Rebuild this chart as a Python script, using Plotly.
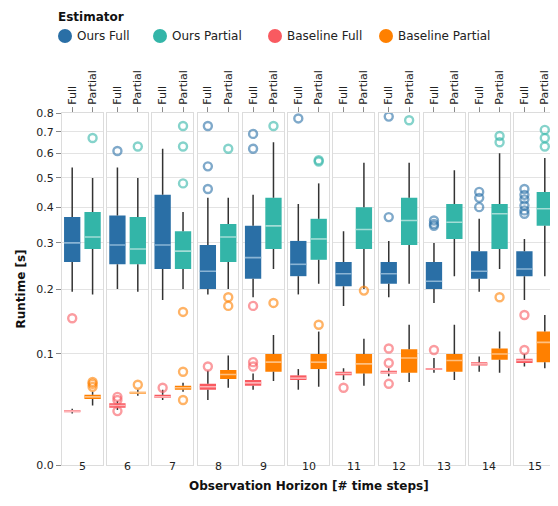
import numpy as np
import plotly.graph_objects as go
from plotly.subplots import make_subplots

horizons = [5, 6, 7, 8, 9, 10, 11, 12, 13, 14, 15]
series_names = ["Ours Full", "Ours Partial", "Baseline Full", "Baseline Partial"]
# per series: lists of [low whisker, q1, median, q3, high whisker] per horizon
ours_full = [
    [0.195, 0.255, 0.30, 0.37, 0.54], [0.20, 0.25, 0.295, 0.375, 0.54], [0.18, 0.24, 0.295, 0.44, 0.62],
    [0.19, 0.20, 0.235, 0.295, 0.43], [0.185, 0.22, 0.265, 0.345, 0.44], [0.19, 0.225, 0.25, 0.305, 0.41],
    [0.17, 0.205, 0.23, 0.255, 0.33], [0.185, 0.21, 0.23, 0.255, 0.305], [0.175, 0.20, 0.215, 0.255, 0.30],
    [0.195, 0.22, 0.235, 0.28, 0.365], [0.18, 0.225, 0.24, 0.28, 0.31]]
ours_partial = [
    [0.19, 0.285, 0.315, 0.385, 0.50], [0.195, 0.25, 0.285, 0.37, 0.50], [0.20, 0.24, 0.28, 0.33, 0.385],
    [0.20, 0.255, 0.315, 0.35, 0.43], [0.24, 0.285, 0.345, 0.43, 0.65], [0.21, 0.26, 0.31, 0.365, 0.48],
    [0.20, 0.285, 0.335, 0.40, 0.56], [0.21, 0.295, 0.36, 0.43, 0.56], [0.225, 0.31, 0.355, 0.41, 0.53],
    [0.24, 0.285, 0.38, 0.41, 0.60], [0.225, 0.345, 0.395, 0.45, 0.58]]
baseline_full = [
    [0.038, 0.039, 0.040, 0.041, 0.042], [0.041, 0.043, 0.045, 0.047, 0.049], [0.050, 0.052, 0.053, 0.055, 0.060],
    [0.050, 0.060, 0.063, 0.066, 0.080], [0.060, 0.064, 0.067, 0.070, 0.077], [0.060, 0.070, 0.072, 0.075, 0.082],
    [0.070, 0.075, 0.077, 0.079, 0.083], [0.074, 0.077, 0.078, 0.080, 0.083], [0.078, 0.081, 0.082, 0.083, 0.095],
    [0.079, 0.086, 0.088, 0.090, 0.097], [0.085, 0.089, 0.092, 0.094, 0.100]]
baseline_partial = [
    [0.045, 0.051, 0.053, 0.055, 0.058], [0.054, 0.056, 0.057, 0.058, 0.060], [0.058, 0.060, 0.062, 0.064, 0.067],
    [0.062, 0.071, 0.076, 0.081, 0.098], [0.069, 0.079, 0.090, 0.100, 0.125], [0.063, 0.082, 0.090, 0.100, 0.130],
    [0.064, 0.077, 0.088, 0.100, 0.120], [0.068, 0.078, 0.095, 0.106, 0.140], [0.070, 0.079, 0.092, 0.100, 0.140],
    [0.078, 0.093, 0.100, 0.107, 0.130], [0.083, 0.090, 0.115, 0.130, 0.155]]
outliers = {
    "Ours Full": [[], [0.61], [], [0.73, 0.545, 0.46], [0.69, 0.62], [0.77], [], [0.78, 0.37],
                  [0.36, 0.35, 0.345], [0.45, 0.43, 0.40], [0.46, 0.44, 0.425, 0.405, 0.39, 0.38]],
    "Ours Partial": [[0.67], [0.63], [0.73, 0.63, 0.48], [0.62], [0.73], [0.565, 0.57], [], [0.76], [],
                     [0.68, 0.65], [0.71, 0.67, 0.63]],
    "Baseline Full": [[0.15], [0.053, 0.05, 0.04], [0.062], [0.085], [0.09, 0.085, 0.17], [], [0.062],
                      [0.107, 0.089, 0.066], [0.105], [], [0.155, 0.105]],
    "Baseline Partial": [[0.066, 0.063, 0.068], [0.065], [0.079, 0.05, 0.16], [0.185, 0.17], [0.175], [0.14],
                         [0.197], [], [], [0.185], []],
}
y_ticks = [0.0, 0.1, 0.2, 0.3, 0.4, 0.5, 0.6, 0.7, 0.8]
bands = ["Full", "Partial"]

data = {"Ours Full": ours_full, "Ours Partial": ours_partial,
        "Baseline Full": baseline_full, "Baseline Partial": baseline_partial}
colors = {"Ours Full": "#2a6fa6", "Ours Partial": "#33b5a8",
          "Baseline Full": "#f95a60", "Baseline Partial": "#ff8000"}
median_colors = {"Ours Full": "#8ab4d4", "Ours Partial": "#a3ddd6",
                 "Baseline Full": "#fdb3b6", "Baseline Partial": "#ffc080"}
band_of = {"Ours Full": 0, "Ours Partial": 1, "Baseline Full": 0, "Baseline Partial": 1}

C = 0.1
def t(v):
    return np.log1p(np.asarray(v, dtype=float) / C)

n = len(horizons)
fig = make_subplots(rows=1, cols=n, shared_yaxes=True, horizontal_spacing=0.009)
W = 0.8
for i in range(n):
    col = i + 1
    for s in series_names:
        lo, q1, md, q3, hi = data[s][i]
        xc = band_of[s]
        fig.add_trace(go.Scatter(x=[xc, xc, None, xc, xc], y=list(t([lo, q1])) + [None] + list(t([q3, hi])),
                                 mode="lines", line=dict(color="#333333", width=1.5),
                                 showlegend=False, hoverinfo="skip"), row=1, col=col)
        fig.add_trace(go.Bar(x=[xc], y=[float(t(q3) - t(q1))], base=[float(t(q1))], width=W,
                             marker=dict(color=colors[s], line=dict(width=0)),
                             showlegend=False, hoverinfo="skip"), row=1, col=col)
        fig.add_trace(go.Scatter(x=[xc - W / 2, xc + W / 2], y=[float(t(md))] * 2, mode="lines",
                                 line=dict(color=median_colors[s], width=1.6),
                                 showlegend=False, hoverinfo="skip"), row=1, col=col)
        ol = outliers[s][i]
        if ol:
            fig.add_trace(go.Scatter(x=[xc] * len(ol), y=list(t(ol)), mode="markers",
                                     marker=dict(symbol="circle-open", size=8, color=colors[s],
                                                 opacity=0.6, line=dict(width=2.4)),
                                     showlegend=False, hoverinfo="skip"), row=1, col=col)
    fig.update_xaxes(row=1, col=col, range=[-0.5, 1.5], side="top", tickmode="array",
                     tickvals=[0, 1], ticktext=bands, tickangle=-90, ticks="outside", ticklen=5,
                     tickcolor="#888", showline=True, mirror=True, linecolor="#dcdcdc", linewidth=1.2,
                     showgrid=False, zeroline=False, tickfont=dict(size=11, color="#222"), fixedrange=True)
    fig.add_annotation(xref=f"x{col if col > 1 else ''} domain", yref="paper", x=0.5, y=0, yshift=-10,
                       text=str(horizons[i]), showarrow=False, font=dict(size=11, color="#222"))

fig.update_yaxes(range=[0, float(t(0.8))], tickmode="array", tickvals=list(t(y_ticks)),
                 ticktext=[f"{v:.1f}" for v in y_ticks], showgrid=True, gridcolor="#e3e3e3",
                 zeroline=False, showline=True, linecolor="#dcdcdc", mirror=True, linewidth=1.2,
                 ticks="", tickfont=dict(size=11, color="#222"))
fig.update_yaxes(row=1, col=1, ticks="outside", ticklen=5, tickcolor="#888",
                 title=dict(text="<b>Runtime [s]</b>", font=dict(size=12, color="#111"), standoff=8))

fig.add_annotation(xref="paper", yref="paper", x=0.5, y=0, yshift=-30, showarrow=False,
                   text="<b>Observation Horizon [# time steps]</b>", font=dict(size=12, color="#111"))

# manual legend (page pixel positions converted to paper units)
PL, PW, PB, PH = 62, 493, 465, 352
def px(x): return (x - PL) / PW
def py(y): return (PB - y) / PH
fig.add_annotation(xref="paper", yref="paper", x=px(56), y=py(17), xanchor="left", yanchor="middle",
                   showarrow=False, text="<b>Estimator</b>", font=dict(size=12, color="#111"))
leg_x = [65, 160, 275, 386]
for s, lx in zip(series_names, leg_x):
    fig.add_shape(type="circle", xref="paper", yref="paper", xsizemode="pixel", ysizemode="pixel",
                  xanchor=px(lx), yanchor=py(36), x0=-7, x1=7, y0=-7, y1=7,
                  fillcolor=colors[s], line=dict(width=0))
    fig.add_annotation(xref="paper", yref="paper", x=px(lx + 10), y=py(36), xanchor="left",
                       yanchor="middle", showarrow=False, text=s, font=dict(size=12, color="#222"))

fig.update_layout(
    width=550, height=498, barmode="overlay", plot_bgcolor="white", paper_bgcolor="white",
    margin=dict(l=54, r=3, t=105, b=41), showlegend=False,
    font=dict(family="DejaVu Sans", size=11, color="#222"),
)
fig.write_html("out.html")
